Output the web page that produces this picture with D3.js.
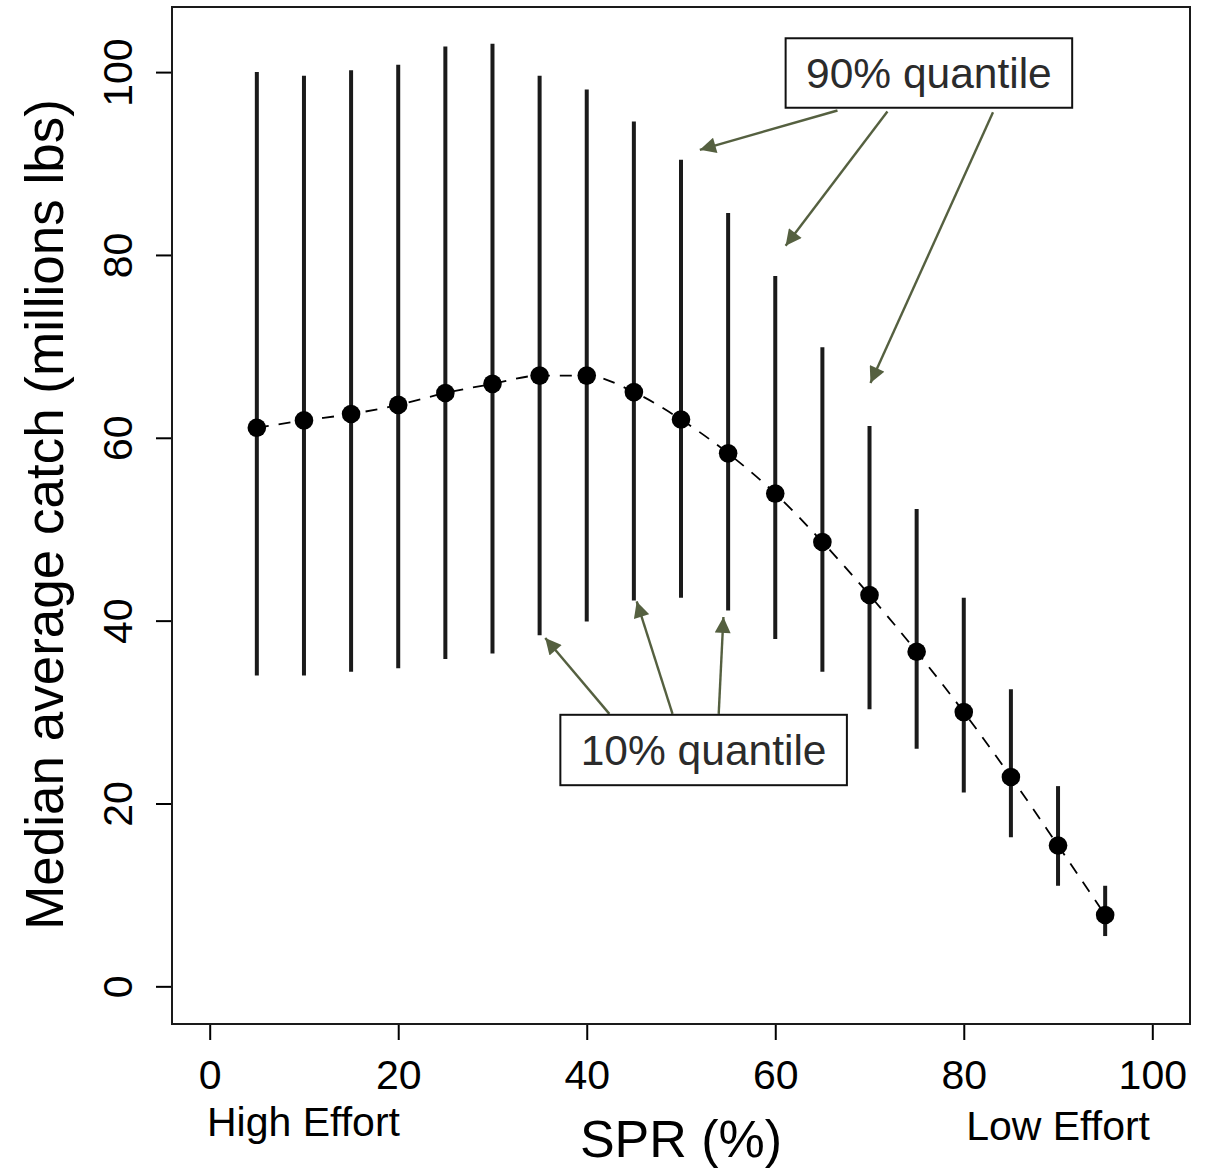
<!DOCTYPE html>
<html>
<head>
<meta charset="utf-8">
<script src="https://cdn.jsdelivr.net/npm/d3@7"></script>
<style>
  body { margin: 0; background: #fff; }
  text { font-family: "Liberation Sans", Arial, sans-serif; }
</style>
</head>
<body>
<script>
"use strict";
// SPR levels and catch quantiles (millions lbs)
const spr = [5, 10, 15, 20, 25, 30, 35, 40, 45, 50, 55, 60, 65, 70, 75, 80, 85, 90, 95];
const median = [61.1, 61.9, 62.6, 63.6, 64.9, 65.9, 66.8, 66.8, 65.0, 62.0, 58.3, 53.9, 48.6, 42.8, 36.6, 30.0, 22.9, 15.4, 7.8];
const q90 = [100.0, 99.6, 100.2, 100.8, 102.8, 103.1, 99.6, 98.1, 94.6, 90.4, 84.6, 77.7, 69.9, 61.3, 52.2, 42.5, 32.5, 21.9, 11.0];
const q10 = [34.0, 34.0, 34.4, 34.8, 35.8, 36.4, 38.4, 39.9, 42.2, 42.5, 41.1, 38.0, 34.4, 30.3, 26.0, 21.2, 16.3, 11.0, 5.5];
const xTicks = [0, 20, 40, 60, 80, 100];
const yTicks = [0, 20, 40, 60, 80, 100];

// annotations in data units
const box90 = { label: "90% quantile", x0: 61.1, x1: 91.5, y0: 96.1, y1: 103.7 };
const arrows90 = [
  [66.6, 95.8, 52.0, 91.5],
  [71.9, 95.7, 61.1, 81.0],
  [83.1, 95.6, 70.1, 66.0]
];
const box10 = { label: "10% quantile", x0: 37.2, x1: 67.6, y0: 22.0, y1: 29.7 };
const arrows10 = [
  [42.4, 29.8, 35.6, 38.1],
  [49.1, 29.8, 45.3, 42.1],
  [54.0, 29.8, 54.5, 40.4]
];

const width = 1208, height = 1169;
const plot = { left: 172, right: 1190, top: 7, bottom: 1024 };

const svg = d3.select("body").append("svg")
  .attr("width", width)
  .attr("height", height);

const x = d3.scaleLinear().domain([-4, 104]).range([plot.left, plot.right]);
const y = d3.scaleLinear().domain([-4.12, 107.12]).range([plot.bottom, plot.top]);

const data = spr.map((s, i) => ({ s, m: median[i], hi: q90[i], lo: q10[i] }));

// error bars
svg.append("g").selectAll("line")
  .data(data)
  .enter().append("line")
  .attr("x1", d => x(d.s)).attr("x2", d => x(d.s))
  .attr("y1", d => y(d.lo)).attr("y2", d => y(d.hi))
  .attr("stroke", "#1a1a1a")
  .attr("stroke-width", 4);

// dashed median curve
const line = d3.line()
  .x(d => x(d.s))
  .y(d => y(d.m))
  .curve(d3.curveMonotoneX);

svg.append("path")
  .datum(data)
  .attr("d", line)
  .attr("fill", "none")
  .attr("stroke", "#000")
  .attr("stroke-width", 1.8)
  .attr("stroke-dasharray", "12,10");

// points
svg.append("g").selectAll("circle")
  .data(data)
  .enter().append("circle")
  .attr("cx", d => x(d.s))
  .attr("cy", d => y(d.m))
  .attr("r", 9.3)
  .attr("fill", "#000");

// axes
const xAxis = svg.append("g")
  .attr("transform", `translate(0,${plot.bottom})`)
  .call(d3.axisBottom(x).tickValues(xTicks).tickSize(16).tickPadding(20));
xAxis.select(".domain").remove();
xAxis.selectAll("line").attr("stroke", "#000").attr("stroke-width", 2);
xAxis.selectAll("text").attr("font-size", 41).attr("fill", "#000")
  .style("font-family", "'Liberation Sans', Arial, sans-serif");

const yAxis = svg.append("g")
  .attr("transform", `translate(${plot.left},0)`)
  .call(d3.axisLeft(y).tickValues(yTicks).tickSize(16));
yAxis.select(".domain").remove();
yAxis.selectAll("line").attr("stroke", "#000").attr("stroke-width", 2);
yAxis.selectAll("text")
  .attr("font-size", 41).attr("fill", "#000")
  .attr("x", null).attr("dy", null)
  .attr("text-anchor", "middle")
  .attr("transform", "translate(-40,0) rotate(-90)")
  .style("font-family", "'Liberation Sans', Arial, sans-serif");

// box
svg.append("rect")
  .attr("x", plot.left).attr("y", plot.top)
  .attr("width", plot.right - plot.left)
  .attr("height", plot.bottom - plot.top)
  .attr("fill", "none")
  .attr("stroke", "#1a1a1a")
  .attr("stroke-width", 2);

// axis titles
svg.append("text")
  .attr("x", 681).attr("y", 1157)
  .attr("text-anchor", "middle")
  .attr("font-size", 52)
  .text("SPR (%)");

svg.append("text")
  .attr("x", 207).attr("y", 1136)
  .attr("font-size", 41)
  .text("High Effort");

svg.append("text")
  .attr("x", 1150).attr("y", 1140)
  .attr("text-anchor", "end")
  .attr("font-size", 41)
  .text("Low Effort");

svg.append("text")
  .attr("transform", `translate(63,${(plot.top + plot.bottom) / 2 - 1}) rotate(-90)`)
  .attr("text-anchor", "middle")
  .attr("font-size", 53)
  .text("Median average catch (millions lbs)");

// arrow marker
svg.append("defs").append("marker")
  .attr("id", "head")
  .attr("viewBox", "0 0 10 10")
  .attr("refX", 10).attr("refY", 5)
  .attr("markerUnits", "userSpaceOnUse")
  .attr("markerWidth", 18).attr("markerHeight", 16)
  .attr("orient", "auto")
  .append("path")
  .attr("d", "M0,0 L10,5 L0,10 Z")
  .attr("fill", "#556040");

function annotate(box, arrows) {
  const g = svg.append("g");
  g.selectAll("line")
    .data(arrows)
    .enter().append("line")
    .attr("x1", d => x(d[0])).attr("y1", d => y(d[1]))
    .attr("x2", d => x(d[2])).attr("y2", d => y(d[3]))
    .attr("stroke", "#556040")
    .attr("stroke-width", 2.4)
    .attr("marker-end", "url(#head)");
  g.append("rect")
    .attr("x", x(box.x0)).attr("y", y(box.y1))
    .attr("width", x(box.x1) - x(box.x0))
    .attr("height", y(box.y0) - y(box.y1))
    .attr("fill", "#fff")
    .attr("stroke", "#111")
    .attr("stroke-width", 2);
  g.append("text")
    .attr("x", (x(box.x0) + x(box.x1)) / 2)
    .attr("y", (y(box.y0) + y(box.y1)) / 2)
    .attr("dy", "0.36em")
    .attr("text-anchor", "middle")
    .attr("font-size", 42.5)
    .attr("fill", "#2b2b2b")
    .text(box.label);
}
annotate(box90, arrows90);
annotate(box10, arrows10);
</script>
</body>
</html>
